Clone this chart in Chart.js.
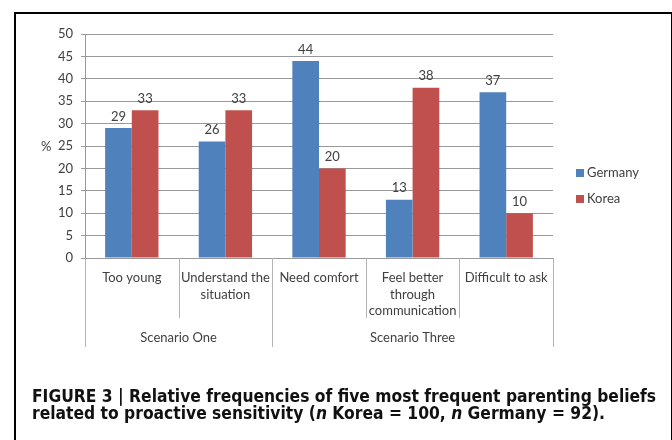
<!DOCTYPE html>
<html>
<head>
<meta charset="utf-8">
<script src="https://cdn.jsdelivr.net/npm/chart.js@4.4.1/dist/chart.umd.min.js"></script>
<style>
  body { margin: 0; background: #fff; }
  #wrap { position: relative; width: 672px; height: 440px; overflow: hidden; }
  #frame { position: absolute; left: 14px; top: 12px; width: 655px; height: 460px; border: 2px solid #000; }
  canvas { position: absolute; left: 0; top: 0; }
  .txt { position: absolute; font-family: Lato, "Open Sans", sans-serif; font-size: 13px; color: #404040; white-space: nowrap; }
  .sw { display: inline-block; width: 8px; height: 8px; margin-right: 3px; vertical-align: 0px; }
  #caption { position: absolute; left: 32px; top: 388px; font-family: "Liberation Sans Narrow", "DejaVu Sans Condensed", sans-serif;
    font-stretch: condensed; font-weight: bold; font-size: 17.3px; line-height: 17px; color: #111; white-space: nowrap; }
</style>
</head>
<body>
<div id="wrap">
  <div id="frame"></div>
  <canvas id="myChart" width="672" height="440"></canvas>
  <div class="txt" style="left:41px; top:138px;">%</div>
  <div id="legend"></div>
  <div id="caption">FIGURE 3 | Relative frequencies of five most frequent parenting beliefs<br>related to proactive sensitivity (<i>n</i> Korea = 100, <i>n</i> Germany = 92).</div>
</div>
<script>
const categories = [
  ["Too young"],
  ["Understand the", "situation"],
  ["Need comfort"],
  ["Feel better", "through", "communication"],
  ["Difficult to ask"],
];
const groups = [
  { label: "Scenario One", from: 0, to: 1 },
  { label: "Scenario Three", from: 2, to: 4 },
];
const germany = [29, 26, 44, 13, 37];
const korea = [33, 33, 20, 38, 10];
const yTicks = { min: 0, max: 50, step: 5 };

const textColor = "#404040";
const fontFamily = "Lato, 'Open Sans', sans-serif";

const seriesList = [
  { label: "Germany", data: germany, color: "#4f81bd" },
  { label: "Korea", data: korea, color: "#c0504d" },
];

// legend on the right
const legendEl = document.getElementById("legend");
seriesList.forEach((s, i) => {
  const d = document.createElement("div");
  d.className = "txt";
  d.style.left = "576px";
  d.style.top = (164 + i * 26) + "px";
  d.innerHTML = '<span class="sw" style="background:' + s.color + '"></span>' + s.label;
  legendEl.appendChild(d);
});

// value labels over the bars
const valueLabels = {
  id: "valueLabels",
  afterDatasetsDraw(chart) {
    const ctx = chart.ctx;
    ctx.save();
    ctx.font = "13px " + fontFamily;
    ctx.fillStyle = textColor;
    ctx.textAlign = "center";
    ctx.textBaseline = "bottom";
    chart.data.datasets.forEach((ds, di) => {
      chart.getDatasetMeta(di).data.forEach((bar, i) => {
        ctx.fillText(ds.data[i], bar.x, bar.y - 5);
      });
    });
    ctx.restore();
  },
};

// category separators and scenario groups under the axis
const groupAxis = {
  id: "groupAxis",
  afterDraw(chart) {
    const ctx = chart.ctx;
    const x = chart.scales.x;
    const bottom = chart.chartArea.bottom;
    const n = categories.length;
    const half = (x.getPixelForValue(1) - x.getPixelForValue(0)) / 2;
    const edge = (i) => x.getPixelForValue(i) - half;
    const groupEdges = [];
    groups.forEach((g) => { groupEdges.push(g.from); groupEdges.push(g.to + 1); });

    ctx.save();
    ctx.strokeStyle = "#b3b3b3";
    ctx.lineWidth = 1;
    for (let i = 0; i <= n; i++) {
      const px = Math.round(edge(i)) + 0.5;
      const len = groupEdges.includes(i) ? 89 : 60;
      ctx.beginPath();
      ctx.moveTo(px, bottom);
      ctx.lineTo(px, bottom + len);
      ctx.stroke();
    }
    ctx.font = "13px " + fontFamily;
    ctx.fillStyle = textColor;
    ctx.textAlign = "center";
    ctx.textBaseline = "middle";
    groups.forEach((g) => {
      const cx = (edge(g.from) + edge(g.to + 1)) / 2;
      ctx.fillText(g.label, cx, bottom + 80);
    });
    ctx.restore();
  },
};

const ctx = document.getElementById("myChart").getContext("2d");
const myChart = new Chart(ctx, {
  type: "bar",
  data: {
    labels: categories,
    datasets: seriesList.map((s) => ({
      label: s.label,
      data: s.data,
      backgroundColor: s.color,
      borderWidth: 0,
      categoryPercentage: 0.57,
      barPercentage: 1.0,
    })),
  },
  options: {
    responsive: false,
    animation: false,
    layout: { padding: { left: 0, top: 34, right: 119, bottom: 82 } },
    plugins: {
      legend: { display: false },
      tooltip: { enabled: false },
    },
    scales: {
      x: {
        grid: { display: false },
        border: { display: true, color: "#999999" },
        ticks: {
          color: textColor,
          font: { family: fontFamily, size: 13, lineHeight: 1.3 },
          padding: 3,
          maxRotation: 0,
          autoSkip: false,
        },
        afterFit: (s) => { s.height = 100; },
      },
      y: {
        min: yTicks.min,
        max: yTicks.max,
        grid: { color: "#999999", tickLength: 4 },
        border: { display: true, color: "#999999" },
        ticks: {
          stepSize: yTicks.step,
          color: textColor,
          font: { family: fontFamily, size: 13 },
          padding: 8,
        },
        afterFit: (s) => { s.width = 85; },
      },
    },
  },
  plugins: [valueLabels, groupAxis],
});
</script>
</body>
</html>
